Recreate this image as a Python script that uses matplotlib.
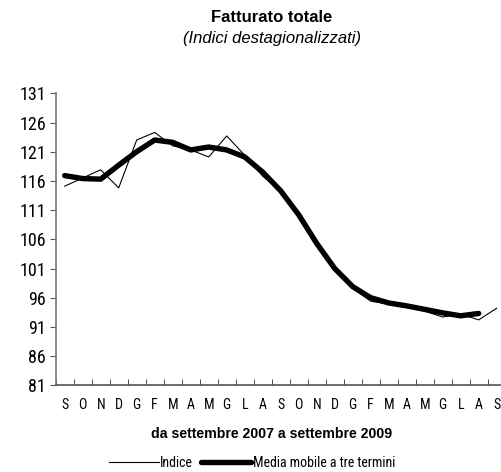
import matplotlib
matplotlib.use("Agg")
import matplotlib.pyplot as plt
from matplotlib import font_manager
from matplotlib.lines import Line2D

names = {f.name for f in font_manager.fontManager.ttflist}
NARROW = next((n for n in ["Arial Narrow", "Liberation Sans Narrow", "Roboto Condensed",
                           "Archivo Narrow"] if n in names), "Liberation Sans")
plt.rcParams["font.family"] = ["Liberation Sans", "DejaVu Sans"]

months = ["S", "O", "N", "D", "G", "F", "M", "A", "M", "G", "L", "A",
          "S", "O", "N", "D", "G", "F", "M", "A", "M", "G", "L", "A", "S"]
indice = [115.1, 116.5, 117.9, 114.8, 123.0, 124.3, 122.0, 121.3, 120.1, 123.7,
          120.4, 116.8, 114.3, 110.0, 105.3, 100.9, 97.6, 95.4, 94.9, 94.5,
          93.7, 92.7, 93.2, 92.2, 94.2]
media = [116.9, 116.4, 116.3, 118.7, 121.0, 123.0, 122.6, 121.3, 121.8, 121.3,
         120.1, 117.5, 114.3, 110.2, 105.3, 101.0, 97.9, 96.0, 95.1, 94.6,
         94.0, 93.4, 92.9, 93.3]
yticks = [81, 86, 91, 96, 101, 106, 111, 116, 121, 126, 131]

W, H = 502, 472
fig = plt.figure(figsize=(W / 100, H / 100), dpi=100)
left, right, top, bottom = 55.7, 505.7, 93.3, 385.3
ax = fig.add_axes([left / W, 1 - bottom / H, (right - left) / W, (bottom - top) / H])

x_ind = list(range(len(indice)))
x_med = list(range(len(media)))
ax.plot(x_ind, indice, color="black", lw=0.8)
ax.plot(x_med, media, color="black", lw=3.9, solid_capstyle="round", solid_joinstyle="round")

ax.set_xlim(-0.5, len(months) - 0.5)
ax.set_ylim(81, 131)
ax.set_yticks(yticks)
ax.set_yticklabels([str(v) for v in yticks], fontsize=13, family=[NARROW, "DejaVu Sans"])
ax.set_xticks(range(len(months)))
ax.set_xticklabels(months, fontsize=10, family=[NARROW, "DejaVu Sans"])
ax.set_xticks([i - 0.5 for i in range(len(months) + 1)], minor=True)
ax.tick_params(axis="x", which="major", length=0, pad=9)
ax.tick_params(axis="x", which="minor", length=4, direction="in", color="#333333")
ax.tick_params(axis="y", length=4.5, direction="out", color="#555555", pad=2.5)
for s in ["top", "right"]:
    ax.spines[s].set_visible(False)
ax.spines["left"].set_color("#777777")
ax.spines["bottom"].set_color("#555555")
ax.spines["left"].set_linewidth(1.2)
ax.spines["bottom"].set_linewidth(1.2)

fig.text(272 / W, 1 - 17 / H, "Fatturato totale", ha="center", va="center",
         fontsize=12, fontweight="bold")
fig.text(272 / W, 1 - 38 / H, "(Indici destagionalizzati)", ha="center", va="center",
         fontsize=12, fontstyle="italic")
fig.text(272 / W, 1 - 434 / H, "da settembre 2007 a settembre 2009", ha="center",
         va="center", fontsize=10.2, fontweight="bold")

handles = [Line2D([], [], color="black", lw=0.8),
           Line2D([], [], color="black", lw=3.9, solid_capstyle="round")]
fig.legend(handles, ["Indice", "Media mobile a tre termini"], loc="center",
           bbox_to_anchor=(252 / W, 1 - 463 / H), ncol=2, frameon=False,
           prop={"family": [NARROW, "DejaVu Sans"], "size": 10},
           handlelength=3.6, handletextpad=0.1, columnspacing=0.6)

fig.savefig("out.png", dpi=100)
